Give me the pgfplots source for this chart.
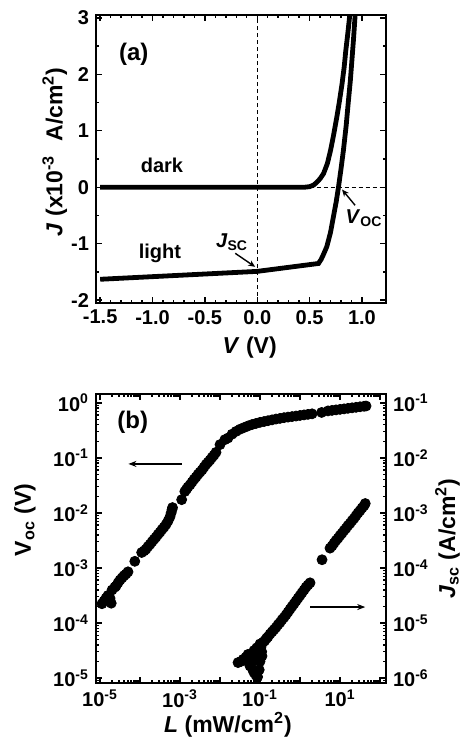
\documentclass[border=0pt]{standalone}
\usepackage{fontspec}
\setmainfont{Liberation Sans}
\usepackage{pgfplots}
\pgfplotsset{compat=1.18}
\usetikzlibrary{arrows.meta}

\pgfplotsset{
  panel/.style={
    scale only axis,
    width=145pt,
    axis line style={line width=0.9pt},
    tick style={line width=0.7pt, black},
    major tick length=3pt,
    minor tick length=1.6pt,
    tick label style={font=\bfseries\fontsize{10}{10}\selectfont},
    label style={font=\bfseries\fontsize{11.5}{12}\selectfont},
    /pgf/number format/assume math mode=true,
  },
  dots/.style={only marks, mark=*, mark size=2.5pt, black},
}

\begin{document}
\begin{tikzpicture}
%% (a) J-V curves
\begin{axis}[panel,
  at={(0,0)}, anchor=south west, height=144pt,
  xmin=-1.54, xmax=1.23, ymin=-2.05, ymax=3.05,
  xtick={-1.5,-1.0,-0.5,0.0,0.5,1.0},
  ytick={-2,-1,0,1,2,3},
  minor x tick num=4, minor y tick num=1,
  xticklabel style={/pgf/number format/.cd, fixed, fixed zerofill, precision=1},
  xlabel={\textit{V} (V)},
  ylabel={\textit{J} (x10\textsuperscript{-3}\,\, A/cm\textsuperscript{2})},
  xlabel style={at={(axis description cs:0.53,-0.153)}, anchor=center},
  ylabel style={at={(axis description cs:-0.142,0.525)}, anchor=center},
]
  \draw[dashed, dash pattern=on 2pt off 1.5pt, line width=0.6pt]
    (axis cs:0,-2.05) -- (axis cs:0,3.05);
  \draw[dashed, dash pattern=on 2pt off 1.5pt, line width=0.6pt]
    (axis cs:0.5,0) -- (axis cs:1.23,0);
  % dark
  \addplot[black, line width=2.4pt] coordinates {
    (-1.5,0)(0.45,0)(0.5,0.01)(0.54,0.04)(0.57,0.09)(0.60,0.15)
    (0.633,0.24)(0.67,0.42)(0.70,0.65)(0.73,0.93)(0.76,1.24)
    (0.785,1.52)(0.81,1.83)(0.83,2.12)(0.846,2.42)(0.865,2.72)(0.887,3.1)
  };
  % light
  \addplot[black, line width=2.4pt] coordinates {
    (-1.5,-1.63)(0.0,-1.49)(0.585,-1.35)(0.61,-1.28)(0.635,-1.18)
    (0.665,-1.05)(0.70,-0.80)(0.728,-0.52)(0.755,-0.25)(0.776,0.0)
    (0.80,0.32)(0.823,0.65)(0.85,1.10)(0.871,1.53)(0.89,1.90)
    (0.904,2.24)(0.92,2.63)(0.937,3.1)
  };
  \node[font=\bfseries\fontsize{12}{12}\selectfont] at (axis cs:-1.18,2.36) {(a)};
  \node[font=\bfseries\fontsize{10}{10}\selectfont] at (axis cs:-0.91,0.39) {dark};
  \node[font=\bfseries\fontsize{10}{10}\selectfont] at (axis cs:-0.93,-1.17) {light};
  \node[font=\bfseries\fontsize{10}{10}\selectfont] at (axis cs:-0.24,-0.97)
    {\textit{J}\textsubscript{SC}};
  \draw[-{Stealth[length=3.5pt,width=3pt]}, line width=0.7pt]
    (axis cs:-0.21,-1.17) -- (axis cs:-0.02,-1.41);
  \node[font=\bfseries\fontsize{10}{10}\selectfont] at (axis cs:1.02,-0.55)
    {\textit{V}\textsubscript{OC}};
  \draw[-{Stealth[length=3.5pt,width=3pt]}, line width=0.7pt]
    (axis cs:0.935,-0.32) -- (axis cs:0.81,-0.04);
\end{axis}

%% (b) Voc vs L
\begin{axis}[panel,
  at={(0,-45.5pt)}, anchor=north west, height=144.5pt,
  xmode=log, ymode=log,
  xmin=7.94e-6, xmax=141, ymin=8.13e-6, ymax=1.445,
  xtick={1e-5,1e-4,1e-3,1e-2,1e-1,1,10,100},
  xticklabels={10\textsuperscript{-5},,10\textsuperscript{-3},,10\textsuperscript{-1},,10\textsuperscript{1},},
  minor xtick={},
  ytick={1e-5,1e-4,1e-3,1e-2,1e-1,1},
  yticklabels={10\textsuperscript{-5},10\textsuperscript{-4},10\textsuperscript{-3},10\textsuperscript{-2},10\textsuperscript{-1},10\textsuperscript{0}},
  minor ytick={9e-6,2e-5,3e-5,4e-5,5e-5,6e-5,7e-5,8e-5,9e-5,
    2e-4,3e-4,4e-4,5e-4,6e-4,7e-4,8e-4,9e-4,
    2e-3,3e-3,4e-3,5e-3,6e-3,7e-3,8e-3,9e-3,
    0.02,0.03,0.04,0.05,0.06,0.07,0.08,0.09,
    0.2,0.3,0.4,0.5,0.6,0.7,0.8,0.9},
  ytick pos=left,
  xlabel={\textit{L} (mW/cm\textsuperscript{2})},
  ylabel={V\textsubscript{oc} (V)},
  xlabel style={at={(axis description cs:0.455,-0.145)}, anchor=center},
  ylabel style={at={(axis description cs:-0.245,0.564)}, anchor=center},
]
  \addplot[dots] coordinates {
    (1.12e-5,2.24e-4)(1.26e-5,2.51e-4)(1.41e-5,2.82e-4)(1.58e-5,3.16e-4)
    (1.78e-5,2.82e-4)(1.91e-5,2.29e-4)(2.00e-5,3.98e-4)(2.34e-5,4.47e-4)
    (2.51e-5,4.68e-4)(2.82e-5,5.37e-4)(3.16e-5,6.03e-4)(3.55e-5,6.61e-4)
    (3.98e-5,7.24e-4)(4.47e-5,7.76e-4)(5.01e-5,8.51e-4)
    (7.41e-5,1.32e-3)
    (1.10e-4,1.91e-3)(1.26e-4,2.04e-3)(1.41e-4,2.19e-3)(1.58e-4,2.45e-3)
    (1.78e-4,2.69e-3)(2.00e-4,3.00e-3)(2.24e-4,3.31e-3)(2.51e-4,3.63e-3)
    (2.82e-4,4.07e-3)(3.16e-4,4.47e-3)(3.55e-4,5.01e-3)(3.98e-4,5.50e-3)
    (4.47e-4,6.17e-3)(5.01e-4,7.10e-3)
    (5.62e-4,8.50e-3)(6.00e-4,1.00e-2)(6.31e-4,1.15e-2)(6.50e-4,1.25e-2)
    (1.10e-3,1.74e-2)
    (1.32e-3,2.45e-2)(1.45e-3,2.69e-2)(1.58e-3,2.95e-2)(1.78e-3,3.24e-2)
    (2.00e-3,3.63e-2)(2.24e-3,4.07e-2)(2.51e-3,4.47e-2)(2.82e-3,5.01e-2)
    (3.16e-3,5.50e-2)(3.55e-3,6.03e-2)(3.98e-3,6.76e-2)(4.47e-3,7.59e-2)
    (5.01e-3,8.32e-2)(5.62e-3,9.12e-2)(6.31e-3,1.02e-1)(7.08e-3,1.12e-1)
    (7.94e-3,1.26e-1)
    (1.00e-2,1.74e-1)(1.32e-2,2.14e-1)
    (1.58e-2,0.229)(2.00e-2,0.269)(2.51e-2,0.302)(3.16e-2,0.331)
    (3.98e-2,0.355)(5.01e-2,0.380)(6.31e-2,0.403)(7.94e-2,0.422)
    (0.100,0.442)(0.126,0.457)(0.158,0.473)(0.200,0.490)(0.251,0.507)
    (0.316,0.521)(0.398,0.537)(0.501,0.550)(0.631,0.562)(0.794,0.575)
    (1.00,0.589)(1.26,0.603)(1.58,0.617)(2.00,0.631)
    (3.47,0.668)
    (5.01,0.713)(6.31,0.728)(7.94,0.744)(10.0,0.760)(12.6,0.776)
    (15.8,0.794)(20.0,0.811)(25.1,0.828)(31.6,0.847)(39.8,0.865)(44.7,0.875)
  };
  \draw[-{Stealth[length=4pt,width=3pt]}, line width=0.7pt]
    (axis cs:1.10e-3,0.0776) -- (axis cs:5.13e-5,0.0776);
  \draw[-{Stealth[length=4pt,width=3pt]}, line width=0.7pt]
    (axis cs:1.78,1.95e-4) -- (axis cs:42.7,1.95e-4);
  \node[font=\bfseries\fontsize{12}{12}\selectfont] at (axis cs:6.6e-5,0.436) {(b)};
\end{axis}

%% (b) Jsc vs L, right axis
\begin{axis}[panel,
  at={(0,-45.5pt)}, anchor=north west, height=144.5pt,
  xmode=log, ymode=log,
  xmin=7.94e-6, xmax=141, ymin=8.13e-7, ymax=0.1445,
  axis x line=none, axis y line*=right,
  ytick={1e-6,1e-5,1e-4,1e-3,1e-2,1e-1},
  yticklabels={10\textsuperscript{-6},10\textsuperscript{-5},10\textsuperscript{-4},10\textsuperscript{-3},10\textsuperscript{-2},10\textsuperscript{-1}},
  minor ytick={9e-7,2e-6,3e-6,4e-6,5e-6,6e-6,7e-6,8e-6,9e-6,
    2e-5,3e-5,4e-5,5e-5,6e-5,7e-5,8e-5,9e-5,
    2e-4,3e-4,4e-4,5e-4,6e-4,7e-4,8e-4,9e-4,
    2e-3,3e-3,4e-3,5e-3,6e-3,7e-3,8e-3,9e-3,
    0.02,0.03,0.04,0.05,0.06,0.07,0.08,0.09},
  ylabel={\textit{J}\textsubscript{sc} (A/cm\textsuperscript{2})},
  ylabel style={at={(axis description cs:1.212,0.5)}, anchor=center},
]
  \addplot[dots] coordinates {
    (2.82e-2,1.91e-6)(3.31e-2,2.00e-6)(3.80e-2,2.19e-6)(4.47e-2,2.40e-6)
    (5.01e-2,2.69e-6)(5.25e-2,1.91e-6)(5.62e-2,1.66e-6)(6.03e-2,2.40e-6)
    (6.61e-2,1.41e-6)(7.08e-2,1.26e-6)(7.59e-2,2.09e-6)(7.94e-2,1.12e-6)
    (8.71e-2,1.05e-6)(8.91e-2,2.82e-6)(9.55e-2,1.41e-6)(0.100,2.00e-6)
    (7.08e-2,3.16e-6)(8.32e-2,3.55e-6)(0.100,4.17e-6)(0.110,3.02e-6)
    (0.105,3.55e-6)(0.112,2.51e-6)(0.120,4.47e-6)(0.132,4.79e-6)
    (0.145,5.25e-6)(0.158,5.62e-6)(0.178,6.31e-6)(0.200,6.92e-6)
    (0.224,7.59e-6)(0.251,8.32e-6)(0.282,9.33e-6)(0.316,1.02e-5)
    (0.355,1.15e-5)(0.398,1.26e-5)(0.447,1.41e-5)(0.501,1.58e-5)
    (0.562,1.78e-5)(0.631,2.00e-5)(0.708,2.24e-5)(0.794,2.51e-5)
    (0.891,2.82e-5)(1.00,3.16e-5)(1.12,3.55e-5)(1.26,3.98e-5)
    (1.41,4.47e-5)(1.58,4.90e-5)(1.78,5.37e-5)
    (3.55,1.41e-4)
    (5.62,2.29e-4)(6.31,2.51e-4)(7.08,2.82e-4)(7.94,3.16e-4)(8.91,3.47e-4)
    (10.0,3.89e-4)(11.2,4.27e-4)(12.6,4.79e-4)(14.1,5.25e-4)(15.8,5.89e-4)
    (17.8,6.46e-4)(20.0,7.24e-4)(22.4,7.94e-4)(25.1,8.91e-4)(28.2,1.00e-3)
    (31.6,1.10e-3)(35.5,1.23e-3)(39.8,1.35e-3)(42.7,1.48e-3)
  };
\end{axis}

\pgfresetboundingbox
\path (-48pt,151.5pt) rectangle (184pt,-218.5pt);
\end{tikzpicture}
\end{document}
